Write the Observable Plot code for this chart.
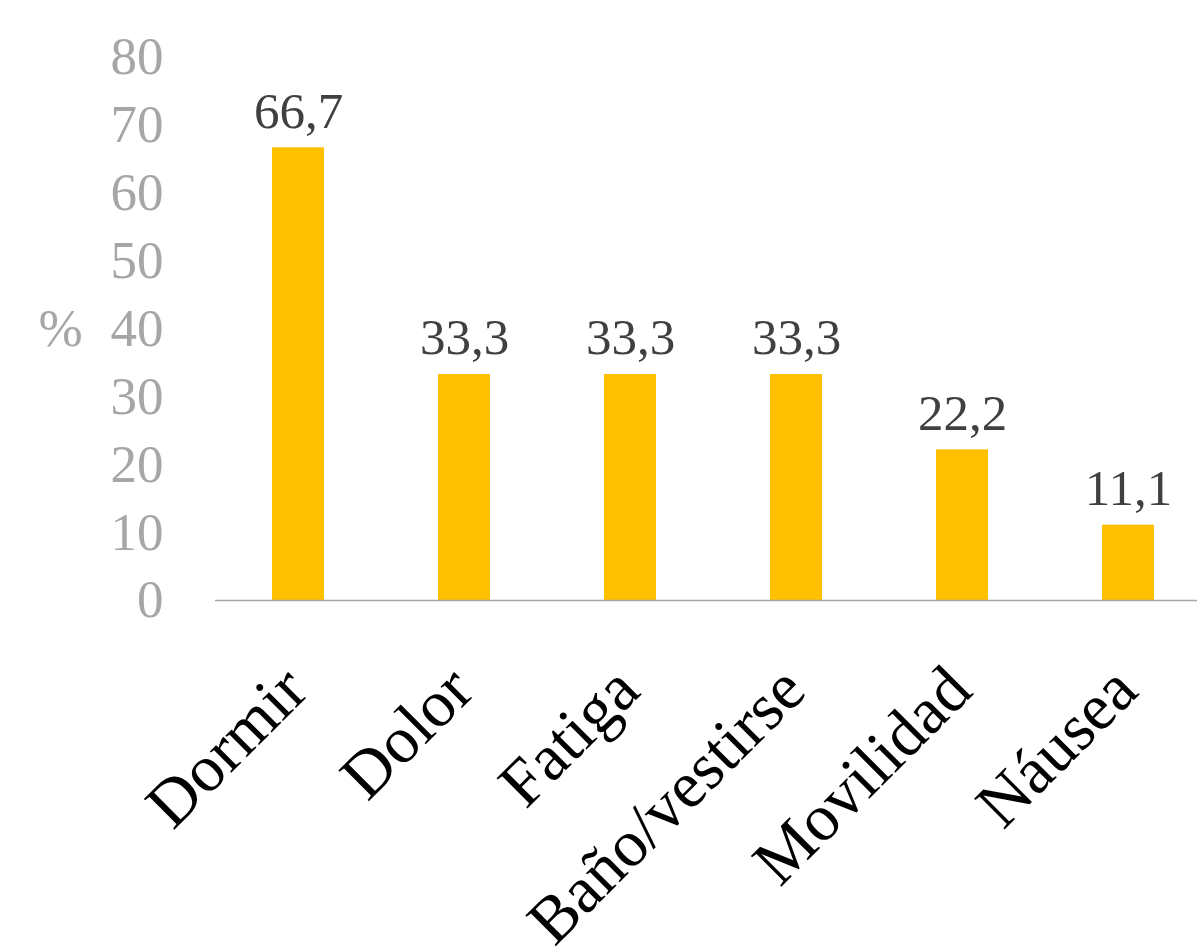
<!DOCTYPE html>
<html>
<head>
<meta charset="utf-8">
<script src="https://cdn.jsdelivr.net/npm/d3@7"></script>
<script src="https://cdn.jsdelivr.net/npm/@observablehq/plot@0.6"></script>
<style>
  html, body { margin: 0; padding: 0; background: #fff; }
  #chart svg { display: block; }
  g[aria-label="xlabels"] text { letter-spacing: 1.5px; }
</style>
</head>
<body>
<div id="chart"></div>
<script>
const categories = ["Dormir", "Dolor", "Fatiga", "Baño/vestirse", "Movilidad", "Náusea"];
const values = [66.7, 33.3, 33.3, 33.3, 22.2, 11.1];
const valueLabels = ["66,7", "33,3", "33,3", "33,3", "22,2", "11,1"];
const yTicks = [0, 10, 20, 30, 40, 50, 60, 70, 80];
const yLabel = "%";

const data = categories.map((c, i) => ({cat: c, value: values[i], label: valueLabels[i]}));

const chart = Plot.plot({
  width: 1197,
  height: 952,
  marginTop: 57,
  marginBottom: 352,
  marginLeft: 215,
  marginRight: 0,
  style: {fontFamily: "'Liberation Serif', 'Times New Roman', serif", background: "#fff"},
  x: {domain: categories, range: [215, 1211], paddingInner: 0.687, paddingOuter: 0.3435, axis: null},
  y: {domain: [0, 80]},
  marks: [
    Plot.barY(data, {x: "cat", y: "value", fill: "#FFC000"}),
    Plot.ruleY([0], {stroke: "#A6A6A6", strokeWidth: 1.5}),
    Plot.axisY(yTicks, {tickSize: 0, tickPadding: 52, fontSize: 53, fill: "#A6A6A6", label: null}),
    Plot.text([yLabel], {frameAnchor: "left", dx: -155, textAnchor: "middle", lineAnchor: "middle", fontSize: 53, fill: "#A6A6A6"}),
    Plot.text(data, {x: "cat", y: "value", text: "label", dy: -20, lineAnchor: "bottom", fontSize: 51, fill: "#404040"}),
    Plot.text(categories, {ariaLabel: "xlabels", x: d => d, frameAnchor: "bottom", text: d => d, dx: 12, dy: 93, rotate: -45, textAnchor: "end", lineAnchor: "bottom", fontSize: 66, fill: "#000"})
  ]
});
document.getElementById("chart").appendChild(chart);
</script>
</body>
</html>
